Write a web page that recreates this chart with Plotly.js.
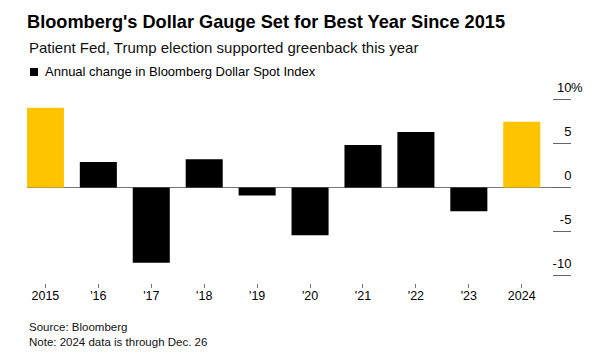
<!DOCTYPE html>
<html>
<head>
<meta charset="utf-8">
<script src="https://cdn.plot.ly/plotly-3.0.1.min.js"></script>
<style>html,body{margin:0;padding:0;background:#fff;}#chart{width:609px;height:357px;}</style>
</head>
<body>
<div id="chart"></div>
<script>
// Data
var years = ['2015', "'16", "'17", "'18", "'19", "'20", "'21", "'22", "'23", '2024'];
var annualChange = [9.0, 2.87, -8.5, 3.2, -0.9, -5.4, 4.8, 6.26, -2.68, 7.43];
var highlightYears = ['2015', '2024'];
var yTickVals = [-10, -5, 0, 5, 10];
var yTickText = ['-10', '-5', '0', '5', '10'];
var yUnit = '%';

var blackVals = annualChange.map(function (v, i) { return highlightYears.indexOf(years[i]) >= 0 ? null : v; });
var yellowVals = annualChange.map(function (v, i) { return highlightYears.indexOf(years[i]) >= 0 ? v : null; });

var FONT = 'Liberation Sans, Arial, Helvetica, sans-serif';
var W = 609, H = 357, L = 27, R = 38, T = 99, B = 74;
var plotH = H - T - B;
function py(p) { return (H - B - p) / plotH; }

var xIdx = years.map(function(_, i){return i;});
var traces = [
  { type: 'bar', x: xIdx, y: blackVals, marker: { color: '#000000', line: {width: 0} },
    name: 'Annual change in Bloomberg Dollar Spot Index', showlegend: false, hoverinfo: 'x+y' },
  { type: 'bar', x: xIdx, y: yellowVals, marker: { color: '#FFC400', line: {width: 0} },
    name: 'Highlight', showlegend: false, hoverinfo: 'x+y' }
];

var layout = {
  width: W, height: H,
  margin: { l: L, r: R, t: T, b: B, pad: 0 },
  paper_bgcolor: '#ffffff', plot_bgcolor: '#ffffff',
  barmode: 'overlay', bargap: 0.3,
  showlegend: false,
  font: { family: FONT, color: '#000000', size: 12 },
  title: {
    text: "Bloomberg's Dollar Gauge Set for Best Year Since 2015",
    xref: 'container', yref: 'container', x: 27 / W, xanchor: 'left', y: 1 - 22 / H, yanchor: 'middle',
    font: { family: FONT, size: 18.2, weight: 'bold', color: '#000000' }
  },
  xaxis: {
    domain: [0, (553 - L) / (W - L - R)],
    range: [-0.348, 9.59],
    tickmode: 'array', tickvals: xIdx, ticktext: years,
    ticks: 'outside', ticklen: 4, tickwidth: 1, tickcolor: '#777777',
    ticklabelstandoff: -3,
    showline: false, showgrid: false, zeroline: false,
    tickfont: { family: FONT, size: 12.5, color: '#000000' },
    fixedrange: true
  },
  yaxis: {
    side: 'left', anchor: 'free', position: 1,
    range: [-10.8, 10],
    tickmode: 'array', tickvals: yTickVals, ticktext: yTickText,
    ticks: 'outside', ticklen: 18, tickwidth: 1, tickcolor: '#666666',
    ticklabelstandoff: -21, ticklabelshift: -12,
    showline: false, showgrid: false,
    zeroline: true, zerolinecolor: '#777777', zerolinewidth: 1,
    tickfont: { family: FONT, size: 13, color: '#000000' },
    fixedrange: true
  },
  shapes: [
    { type: 'rect', xref: 'paper', yref: 'paper', x0: (30 - L) / (W - L - R), x1: (38 - L) / (W - L - R),
      y0: py(76), y1: py(68), fillcolor: '#000000', line: { width: 0 } }
  ],
  annotations: [
    { text: yUnit, xref: 'paper', yref: 'y', x: 1, y: yTickVals[yTickVals.length - 1], yshift: 12,
      xanchor: 'left', yanchor: 'middle', showarrow: false, borderpad: 0, xshift: -1,
      font: { family: FONT, size: 13, color: '#000000' } },
    { text: 'Patient Fed, Trump election supported greenback this year', xref: 'paper', yref: 'paper',
      x: 0, y: py(47), xanchor: 'left', yanchor: 'middle', showarrow: false,
      font: { family: FONT, size: 15, color: '#111111' } },
    { text: 'Annual change in Bloomberg Dollar Spot Index', xref: 'paper', yref: 'paper',
      x: (43 - L) / (W - L - R), y: py(72), xanchor: 'left', yanchor: 'middle', showarrow: false,
      font: { family: FONT, size: 13, color: '#000000' } },
    { text: 'Source: Bloomberg', xref: 'paper', yref: 'paper',
      x: 0, y: py(327), xanchor: 'left', yanchor: 'middle', showarrow: false,
      font: { family: FONT, size: 11.5, color: '#111111' } },
    { text: 'Note: 2024 data is through Dec. 26', xref: 'paper', yref: 'paper',
      x: 0, y: py(342), xanchor: 'left', yanchor: 'middle', showarrow: false,
      font: { family: FONT, size: 11.5, color: '#111111' } }
  ]
};

Plotly.newPlot('chart', traces, layout, { displayModeBar: false, staticPlot: true });
</script>
</body>
</html>
